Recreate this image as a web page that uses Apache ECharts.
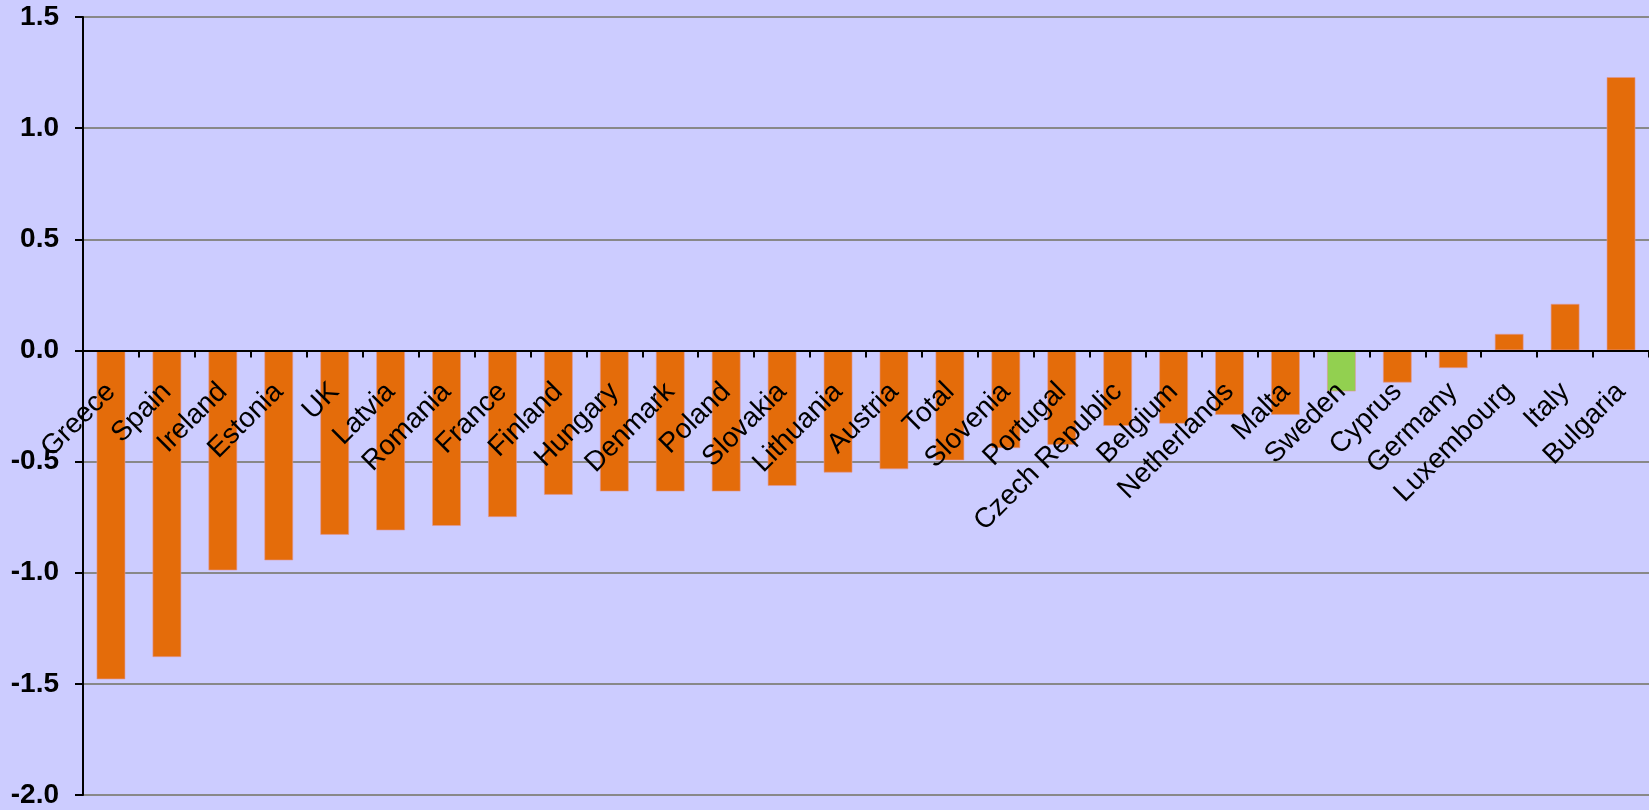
<!DOCTYPE html>
<html>
<head>
<meta charset="utf-8">
<script src="https://cdn.jsdelivr.net/npm/echarts@6/dist/echarts.min.js"></script>
<style>
  html, body { margin: 0; padding: 0; background: #CCCCFF; }
  #chart { width: 1649px; height: 810px; }
</style>
</head>
<body>
<div id="chart"></div>
<script>
const categories = ['Greece', 'Spain', 'Ireland', 'Estonia', 'UK', 'Latvia', 'Romania', 'France', 'Finland', 'Hungary', 'Denmark', 'Poland', 'Slovakia', 'Lithuania', 'Austria', 'Total', 'Slovenia', 'Portugal', 'Czech Republic', 'Belgium', 'Netherlands', 'Malta', 'Sweden', 'Cyprus', 'Germany', 'Luxembourg', 'Italy', 'Bulgaria'];
const values = [-1.48, -1.38, -0.99, -0.945, -0.83, -0.81, -0.79, -0.75, -0.65, -0.635, -0.635, -0.635, -0.61, -0.55, -0.535, -0.495, -0.44, -0.425, -0.34, -0.33, -0.29, -0.29, -0.185, -0.145, -0.08, 0.075, 0.21, 1.23];
const highlighted = ['Sweden'];
const yMin = -2.0, yMax = 1.5, yStep = 0.5;

const BAR = '#E46C0A', HIGHLIGHT = '#92D050';
const FONT = '"Liberation Sans", Arial, sans-serif';

const W = 1649, H = 810;
const gridTop = 17, gridBottom = 15;
const plotH = H - gridTop - gridBottom;
// move the category axis (line, ticks, labels) up to the zero line
const zeroOffset = -((0 - yMin) / (yMax - yMin)) * plotH;

const chart = echarts.init(document.getElementById('chart'));
chart.setOption({
  backgroundColor: '#CCCCFF',
  animation: false,
  grid: { left: 83, right: 0, top: gridTop, bottom: gridBottom, containLabel: false, outerBoundsMode: 'none' },
  xAxis: {
    type: 'category',
    data: categories,
    z: 10,
    offset: zeroOffset,
    axisLine: { onZero: false, lineStyle: { color: '#000', width: 2 } },
    axisTick: { show: true, length: 7, inside: false, lineStyle: { color: '#000', width: 2 } },
    axisLabel: {
      interval: 0, rotate: 45, margin: 37, hideOverlap: false,
      color: '#000', fontSize: 28, fontFamily: FONT
    },
    splitLine: { show: false }
  },
  yAxis: {
    type: 'value',
    min: yMin, max: yMax, interval: yStep,
    axisLine: { show: true, lineStyle: { color: '#000', width: 2 } },
    axisTick: { show: true, length: 8, lineStyle: { color: '#000', width: 2 } },
    axisLabel: {
      margin: 24, color: '#000', fontSize: 28, fontWeight: 'bold', fontFamily: FONT,
      padding: [5, 0, 0, 0],
      formatter: v => v.toFixed(1)
    },
    splitLine: { show: true, lineStyle: { color: '#888888', width: 2 } }
  },
  series: [{
    type: 'bar',
    barWidth: 29,
    data: values.map((v, i) => ({
      value: v,
      itemStyle: { color: highlighted.includes(categories[i]) ? HIGHLIGHT : BAR }
    })),
    itemStyle: { borderColor: 'rgba(225,150,150,0.6)', borderWidth: 1 }
  }]
});
</script>
</body>
</html>
